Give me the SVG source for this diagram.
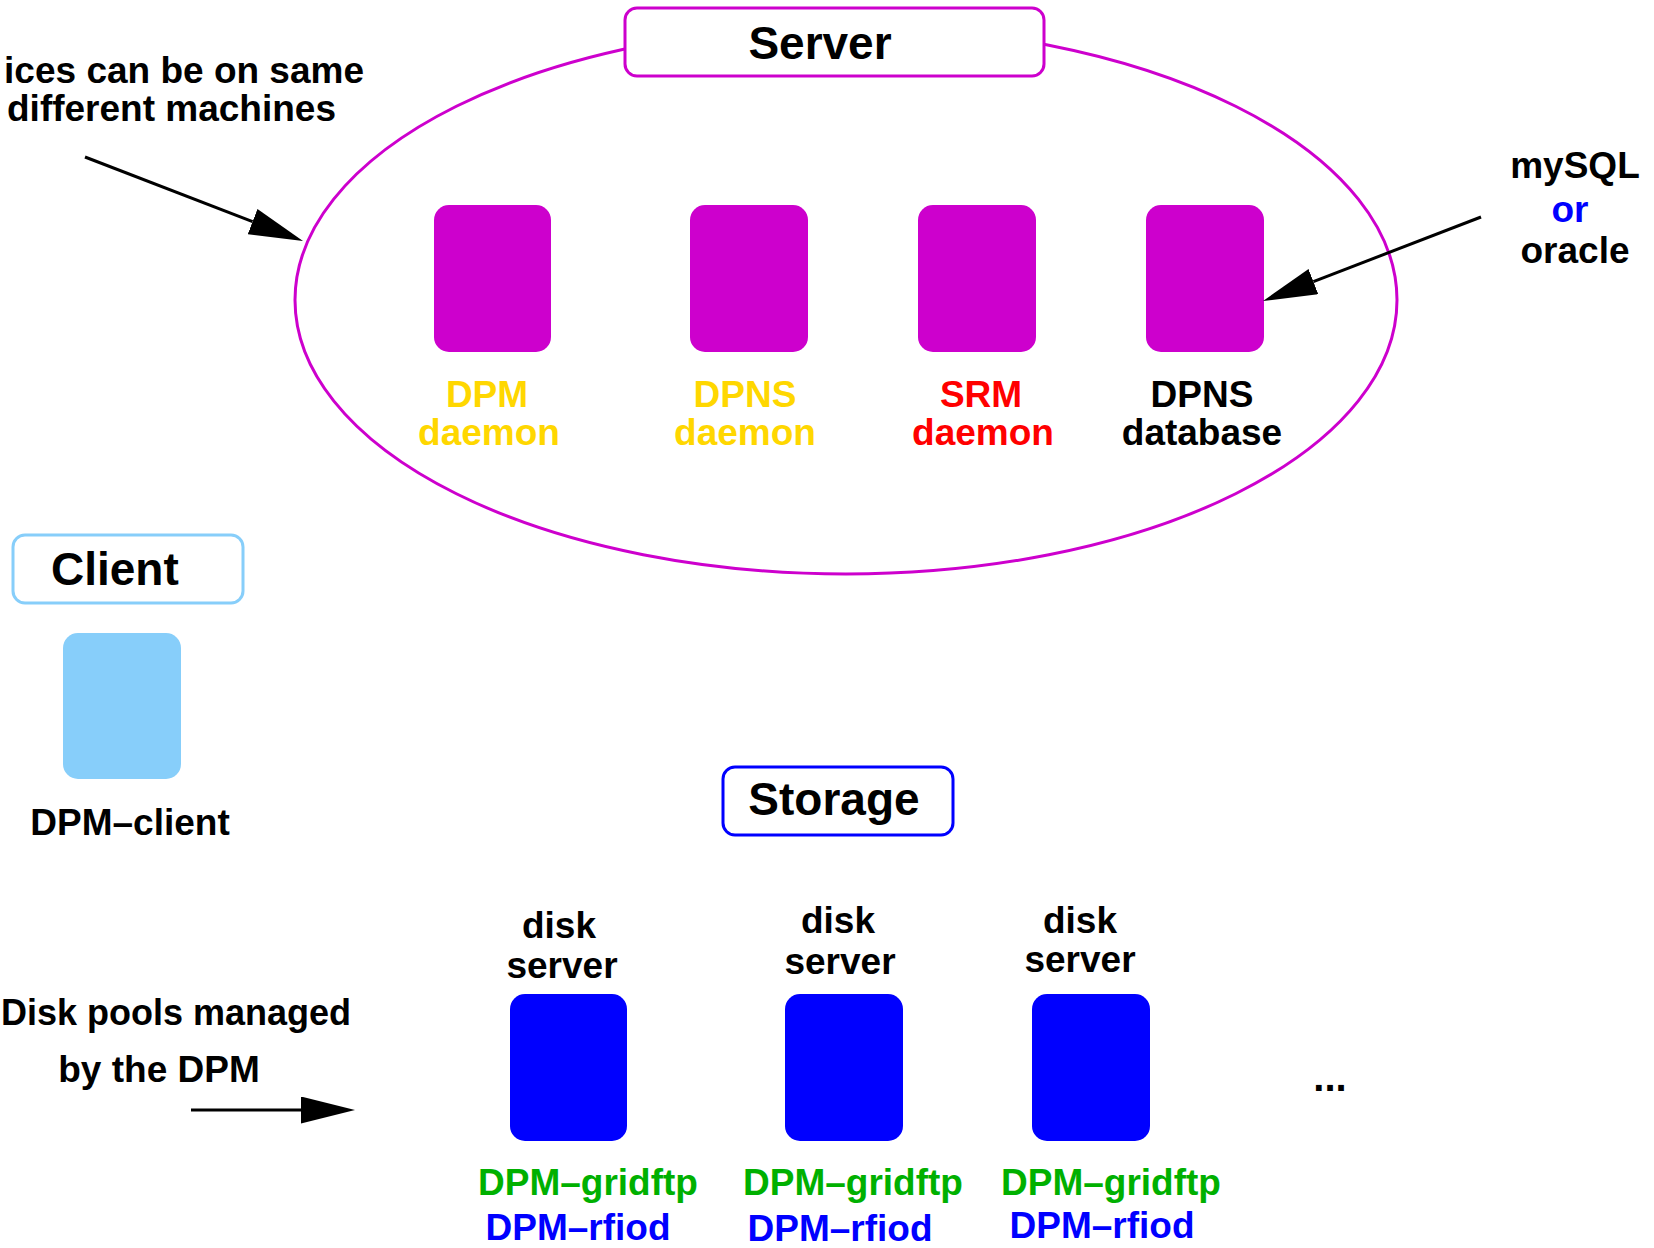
<svg xmlns="http://www.w3.org/2000/svg" width="1654" height="1248" viewBox="0 0 1654 1248">
<defs>
<style>
text{font-family:"Liberation Sans",Arial,Helvetica,sans-serif;font-weight:bold;font-size:37px;}
.title{font-size:46px;}
.mid{text-anchor:middle;}
.end{text-anchor:end;}
.srv{fill:#cd00cd;}
.sto{fill:#0000ff;}
.yel{fill:#ffd700;}
.red{fill:#ff0000;}
.grn{fill:#00b000;}
.blu{fill:#0000ff;}
.blk{fill:#000000;}
.conn{stroke:#000;stroke-width:3;fill:none;marker-end:url(#ah);}
</style>
<marker id="ah" markerWidth="56" markerHeight="28" refX="0" refY="13.5" orient="auto" markerUnits="userSpaceOnUse">
<path d="M0,0 L54,13.5 L0,27 z" fill="#000"/>
</marker>
</defs>
<rect width="1654" height="1248" fill="#fff"/>

<g id="server-group">
<ellipse cx="846" cy="300" rx="551" ry="274" fill="none" stroke="#cd00cd" stroke-width="3"/>
<rect x="625" y="8" width="419" height="68" rx="12" fill="#fff" stroke="#cd00cd" stroke-width="3"/>
<text class="title mid" x="820" y="59">Server</text>
</g>

<g id="dpm-daemon">
<rect class="srv" x="434" y="205" width="117" height="147" rx="15"/>
<text class="mid yel" x="487" y="407">DPM</text>
<text class="mid yel" x="489" y="445">daemon</text>
</g>
<g id="dpns-daemon">
<rect class="srv" x="690" y="205" width="118" height="147" rx="15"/>
<text class="mid yel" x="745" y="407">DPNS</text>
<text class="mid yel" x="745" y="445">daemon</text>
</g>
<g id="srm-daemon">
<rect class="srv" x="918" y="205" width="118" height="147" rx="15"/>
<text class="mid red" x="981" y="407">SRM</text>
<text class="mid red" x="983" y="445">daemon</text>
</g>
<g id="dpns-database">
<rect class="srv" x="1146" y="205" width="118" height="147" rx="15"/>
<text class="mid blk" x="1202" y="407">DPNS</text>
<text class="mid blk" x="1202" y="445">database</text>
</g>

<g id="note-services">
<text class="end" x="364" y="83">ices can be on same</text>
<text class="end" x="336" y="121">different machines</text>
</g>
<g id="note-db">
<text class="mid" x="1575" y="178">mySQL</text>
<text class="mid blu" x="1570" y="222">or</text>
<text class="mid" x="1575" y="263">oracle</text>
</g>

<g id="client">
<rect x="13" y="535" width="230" height="68" rx="12" fill="#fff" stroke="#87cefa" stroke-width="3"/>
<text class="title" x="51" y="585">Client</text>
<rect x="63" y="633" width="118" height="146" rx="15" fill="#87cefa"/>
<text class="mid" x="130" y="835">DPM–client</text>
</g>

<g id="storage">
<rect x="723" y="767" width="230" height="68" rx="12" fill="#fff" stroke="#0000ff" stroke-width="3"/>
<text class="title mid" x="834" y="815">Storage</text>
</g>

<g id="disk-server-1">
<text class="mid" x="559" y="938">disk</text>
<text class="mid" x="562" y="978">server</text>
<rect class="sto" x="510" y="994" width="117" height="147" rx="15"/>
<text class="mid grn" x="588" y="1195">DPM–gridftp</text>
<text class="mid blu" x="578" y="1240">DPM–rfiod</text>
</g>
<g id="disk-server-2">
<text class="mid" x="838" y="933">disk</text>
<text class="mid" x="840" y="974">server</text>
<rect class="sto" x="785" y="994" width="118" height="147" rx="15"/>
<text class="mid grn" x="853" y="1195">DPM–gridftp</text>
<text class="mid blu" x="840" y="1241">DPM–rfiod</text>
</g>
<g id="disk-server-3">
<text class="mid" x="1080" y="933">disk</text>
<text class="mid" x="1080" y="972">server</text>
<rect class="sto" x="1032" y="994" width="118" height="147" rx="15"/>
<text class="mid grn" x="1111" y="1195">DPM–gridftp</text>
<text class="mid blu" x="1102" y="1238">DPM–rfiod</text>
</g>
<g id="more">
<text class="mid" x="1330" y="1091" style="font-size:40px">...</text>
</g>

<g id="note-pools">
<text x="1" y="1025" style="font-size:36px">Disk pools managed</text>
<text class="mid" x="159" y="1082">by the DPM</text>
</g>

<g id="connectors">
<line class="conn" x1="85" y1="157" x2="252.6" y2="221.6"/>
<line class="conn" x1="1481" y1="217" x2="1313.4" y2="281.6"/>
<line class="conn" x1="191" y1="1110" x2="301" y2="1110"/>
</g>
</svg>
